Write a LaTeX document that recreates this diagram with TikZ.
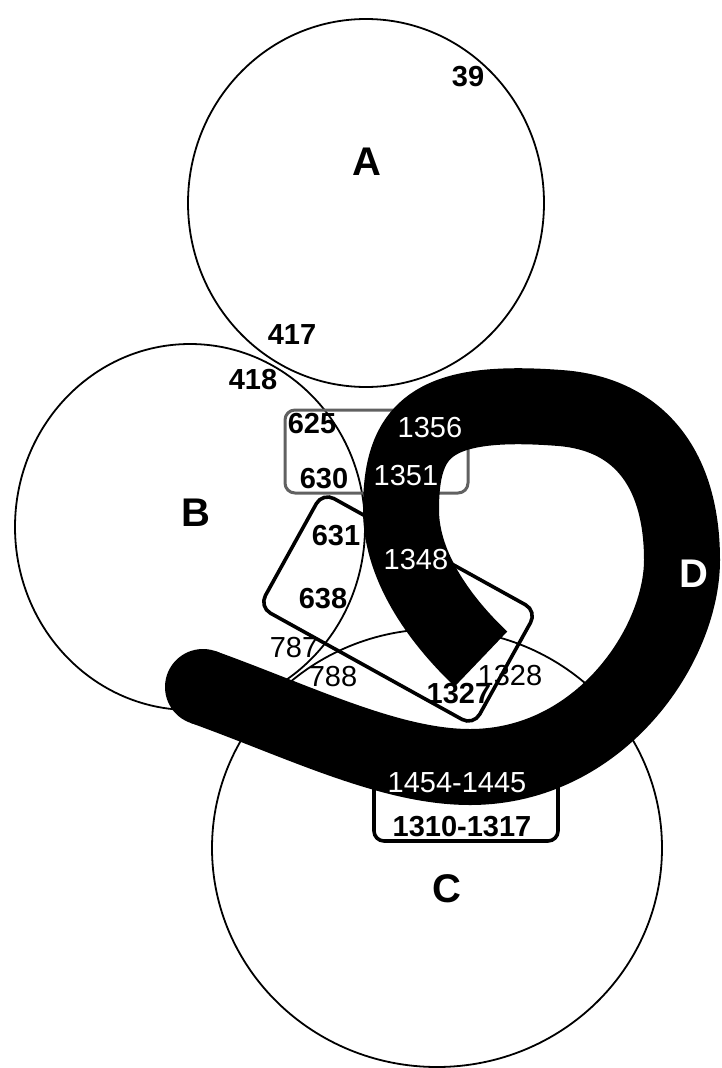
\documentclass[tikz,border=0pt]{standalone}
\usepackage{fontspec}
\setmainfont{Liberation Sans}
\usetikzlibrary{shapes.geometric}
\begin{document}
\begin{tikzpicture}[x=1pt,y=-1pt,
  setline/.style={draw=black, line width=1.8pt, inner sep=0pt, outer sep=0pt},
  groupbox/.style={draw=black, line width=3.6pt, rounded corners=13pt, inner sep=0pt},
  num/.style={font=\fontsize{29}{29}\selectfont, inner sep=0pt},
  bnum/.style={font=\fontsize{29}{29}\selectfont\bfseries, inner sep=0pt},
  setname/.style={font=\fontsize{40}{40}\selectfont\bfseries, inner sep=0pt},
  band/.style={line width=76pt, line cap=butt, line join=round}
]
% canvas
\fill[white] (0,0) rectangle (721,1068);
\useasboundingbox (0,0) rectangle (721,1068);

% the three sets
\node[setline, ellipse, minimum width=356pt, minimum height=368pt] (setA) at (366,203) {};
\node[setline, ellipse, minimum width=350pt, minimum height=366pt] (setB) at (190,527) {};
\node[setline, ellipse, minimum width=450pt, minimum height=438pt] (setC) at (437,848) {};

% grouping boxes
\node[groupbox, draw=black!62, line width=3pt, rounded corners=10pt,
      minimum width=183pt, minimum height=83pt] (box1) at (376.5,451.5) {};
\node[groupbox, minimum width=245pt, minimum height=131pt, rotate=-29] (box2) at (398,609) {};
\node[groupbox, rounded corners=10pt, minimum width=184pt, minimum height=71pt] (box3) at (466,805.5) {};

% set D: thick band, round start and square end
\draw[band] (203,687) .. controls (300,722) and (390,767) .. (470,767)
  .. controls (600,767) and (682,645) .. (682,560)
  .. controls (682,470) and (640,414) .. (560,408)
  .. controls (430,398) and (401,430) .. (401,510)
  .. controls (401,570) and (445,625) .. (481,659);
\fill (203,687) circle (38pt);

% set names
\node[setname] (labA) at (367,162) {A};
\node[setname] (labB) at (196,513) {B};
\node[setname] (labC) at (447,889) {C};
\node[setname, text=white] (labD) at (694,574) {D};

% element numbers
\node[bnum] (n39)  at (468,77)  {39};
\node[bnum] (n417) at (292,335) {417};
\node[bnum] (n418) at (253,380) {418};
\node[bnum] (n625) at (312,424) {625};
\node[bnum] (n630) at (324,479) {630};
\node[num, text=white] (n1356) at (430,428) {1356};
\node[num, text=white] (n1351) at (406,476) {1351};
\node[bnum] (n631) at (336,536) {631};
\node[bnum] (n638) at (323,599) {638};
\node[num, text=white] (n1348) at (416,560) {1348};
\node[num] (n787) at (294,648) {787};
\node[num] (n788) at (333,677) {788};
\node[bnum] (n1327) at (459,694) {1327};
\node[num] (n1328) at (510,676) {1328};
\node[num, text=white] (n1454) at (457,783) {1454-1445};
\node[bnum] (n1310) at (462,827) {1310-1317};
\end{tikzpicture}
\end{document}
